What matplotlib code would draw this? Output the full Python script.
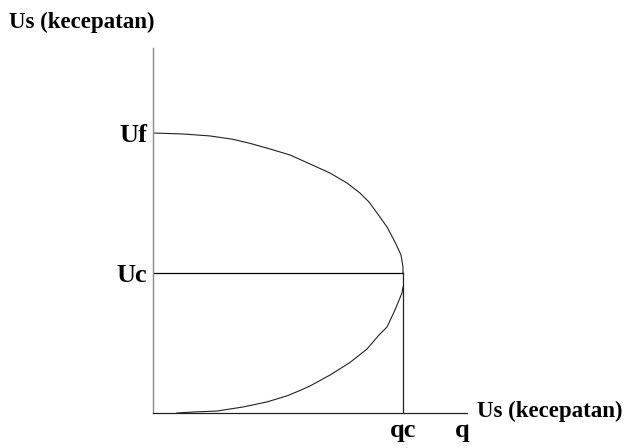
import matplotlib.pyplot as plt

# titik-titik kurva (q dinormalisasi thd qc, Us dinormalisasi thd Uc)
q_atas = [0.0, 0.12, 0.228, 0.32, 0.388, 0.468, 0.548, 0.628, 0.708, 0.776,
          0.828, 0.864, 0.896, 0.936, 0.968, 0.992, 1.0, 1.0]
u_atas = [2.0, 1.993, 1.979, 1.955, 1.926, 1.886, 1.843, 1.779, 1.714, 1.643,
          1.571, 1.507, 1.429, 1.329, 1.221, 1.129, 1.043, 1.0]
q_bawah = [0.096, 0.16, 0.256, 0.36, 0.456, 0.54, 0.588, 0.628, 0.708, 0.788,
           0.856, 0.904, 0.936, 0.968, 0.996, 1.0]
u_bawah = [0.0, 0.007, 0.014, 0.043, 0.079, 0.125, 0.161, 0.193, 0.271, 0.361,
           0.457, 0.557, 0.614, 0.736, 0.857, 0.9]

qc = 1.0
Uc = 1.0
Uf = 2.0
q_lbl = 1.236

fig = plt.figure(figsize=(6.27, 4.48), dpi=100)
ax = fig.add_axes([153 / 627, 1 - 413 / 448, (467 - 153) / 627, (413 - 48) / 448])
ax.set_xlim(0, (467 - 153) / 250)
ax.set_ylim(0, (413 - 48) / 140)

ax.plot(q_atas, u_atas, color='#222222', lw=0.8)
ax.plot(q_bawah, u_bawah, color='#222222', lw=0.8)
ax.plot([0, qc], [Uc, Uc], color='black', lw=0.9)
ax.plot([qc, qc], [0, Uc], color='#222222', lw=0.9)

for s in ['top', 'right']:
    ax.spines[s].set_visible(False)
ax.spines['left'].set_color('#888888')
ax.spines['bottom'].set_color('#222222')
ax.spines['left'].set_linewidth(1.0)
ax.spines['bottom'].set_linewidth(0.9)

font = dict(family='Liberation Serif', weight='bold', size=19)
judul = dict(family='Liberation Serif', weight='bold', size=16.5)
ax.set_yticks([Uc, Uf])
ax.set_yticklabels(['Uc', 'Uf'], fontdict=font)
ax.set_xticks([qc, q_lbl])
ax.set_xticklabels(['qc', 'q'], fontdict=font)
ax.tick_params(length=0, pad=4)

fig.text(9 / 627, 1 - 22 / 448, 'Us (kecepatan)', ha='left', va='center', **judul)
fig.text(477 / 627, 1 - 411 / 448, 'Us (kecepatan)', ha='left', va='center', **judul)

plt.savefig('out.png', dpi=100)
